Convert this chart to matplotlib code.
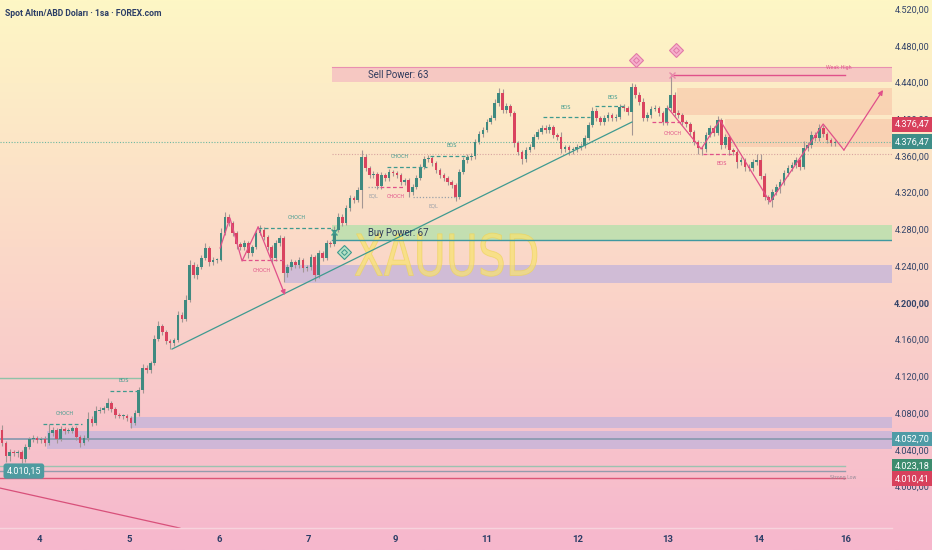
import matplotlib
matplotlib.use("Agg")
import numpy as np
import matplotlib.pyplot as plt
from matplotlib.patches import Rectangle, PathPatch
from matplotlib.textpath import TextPath
from matplotlib.font_manager import FontProperties
from matplotlib.colors import LinearSegmentedColormap
from matplotlib.transforms import Affine2D, blended_transform_factory

# ---- candle data (hourly, XAUUSD) ----
first_open = 4062.5
closes = [
    4048.3, 4034.2, 4038.5, 4037.4, 4038.5, 4030.9, 4044.0, 4052.7, 4053.8, 4051.6,
    4052.7, 4048.3, 4059.2, 4062.5, 4052.7, 4063.6, 4061.4, 4061.9, 4064.7, 4054.9,
    4048.3, 4053.8, 4074.5, 4070.1, 4083.2, 4084.3, 4086.5, 4091.9, 4085.4, 4078.8,
    4077.8, 4078.3, 4075.6, 4070.1, 4081.0, 4106.1, 4130.0, 4127.9, 4135.5, 4161.6,
    4175.8, 4169.3, 4159.4, 4157.3, 4160.5, 4187.8, 4183.4, 4204.1, 4242.2, 4231.3,
    4240.0, 4249.9, 4260.8, 4245.5, 4247.7, 4248.2, 4277.1, 4294.5, 4288.0, 4277.1,
    4265.1, 4261.8, 4266.2, 4255.3, 4261.8, 4277.1, 4280.4, 4272.7, 4261.8, 4249.9,
    4266.2, 4271.6, 4233.5, 4240.0, 4245.5, 4242.2, 4247.7, 4239.0, 4240.0, 4251.0,
    4231.3, 4255.3, 4249.9, 4266.2, 4265.1, 4280.4, 4294.5, 4288.0, 4304.3, 4315.2,
    4313.0, 4323.9, 4359.9, 4347.9, 4340.3, 4341.4, 4328.3, 4340.3, 4337.0, 4343.5,
    4342.5, 4340.3, 4332.6, 4334.8, 4321.8, 4327.2, 4337.0, 4349.0, 4357.7, 4358.8,
    4353.3, 4345.7, 4340.3, 4337.0, 4332.6, 4329.4, 4316.3, 4343.5, 4356.6, 4359.9,
    4361.0, 4376.2, 4384.9, 4389.3, 4398.0, 4402.4, 4418.7, 4429.6, 4411.1, 4415.4,
    4407.8, 4375.1, 4365.3, 4357.7, 4367.5, 4370.8, 4381.7, 4387.1, 4391.5, 4389.3,
    4392.6, 4383.8, 4381.7, 4368.6, 4370.8, 4367.5, 4368.6, 4370.8, 4371.9, 4380.6,
    4394.7, 4410.0, 4402.4, 4398.0, 4402.4, 4405.6, 4402.4, 4403.4, 4414.3, 4413.3,
    4408.9, 4436.1, 4427.4, 4419.8, 4402.4, 4405.6, 4412.2, 4413.3, 4407.8, 4398.0,
    4413.3, 4427.4, 4407.8, 4405.6, 4398.0, 4395.8, 4387.1, 4376.2, 4369.7, 4368.6,
    4383.8, 4391.5, 4386.0, 4400.2, 4372.9, 4381.7, 4367.5, 4365.3, 4354.4, 4356.6,
    4349.0, 4347.9, 4354.4, 4356.6, 4339.2, 4316.3, 4313.0, 4321.8, 4327.2, 4332.6,
    4342.5, 4347.9, 4351.2, 4356.6, 4349.0, 4369.7, 4372.9, 4383.8, 4380.6, 4391.5,
    4384.9, 4378.4, 4375.1, 4376.47,
]
wick_up = [
    6, 2, 3, 2, 2, 2, 3, 2, 3, 2,
    2, 3, 10, 3, 2, 3, 2, 3, 2, 2,
    2, 3, 8, 3, 6, 3, 2, 5, 2, 2,
    2, 2, 2, 2, 3, 3, 4, 3, 2, 4,
    5, 2, 2, 2, 2, 4, 3, 6, 6, 3,
    3, 3, 5, 2, 3, 2, 5, 6, 3, 2,
    2, 2, 3, 2, 2, 3, 5, 3, 2, 2,
    3, 3, 2, 3, 3, 2, 3, 2, 2, 3,
    2, 3, 2, 3, 2, 4, 4, 3, 3, 3,
    2, 3, 8, 3, 2, 3, 2, 3, 2, 3,
    2, 2, 2, 2, 2, 3, 3, 3, 3, 3,
    2, 2, 2, 2, 2, 2, 2, 3, 3, 3,
    3, 3, 3, 3, 3, 3, 4, 5, 4, 3,
    2, 2, 2, 2, 3, 3, 3, 3, 3, 3,
    3, 2, 2, 5, 2, 2, 2, 3, 3, 3,
    3, 4, 3, 2, 3, 3, 2, 3, 3, 3,
    2, 4, 3, 3, 4, 3, 3, 3, 2, 2,
    3, 24, 3, 3, 2, 2, 2, 2, 2, 2,
    3, 3, 2, 4, 2, 3, 2, 2, 2, 3,
    2, 3, 3, 7, 7, 3, 2, 3, 3, 3,
    3, 3, 3, 3, 2, 8, 3, 4, 3, 4,
    3, 2, 2, 2,
]
wick_dn = [
    3, 6, 5, 3, 4, 4, 3, 2, 3, 3,
    3, 3, 2, 3, 4, 2, 3, 2, 3, 3,
    4, 2, 3, 3, 2, 2, 3, 2, 3, 3,
    2, 3, 3, 5, 2, 3, 3, 3, 3, 2,
    2, 3, 3, 6, 3, 2, 3, 2, 2, 3,
    4, 2, 2, 4, 3, 3, 2, 2, 3, 3,
    5, 3, 3, 5, 3, 2, 2, 3, 3, 6,
    3, 3, 10, 4, 3, 3, 3, 4, 3, 3,
    6, 3, 3, 2, 3, 2, 2, 3, 2, 3,
    3, 2, 20, 3, 3, 3, 3, 3, 3, 3,
    3, 3, 3, 3, 5, 3, 2, 2, 2, 3,
    3, 3, 3, 3, 3, 3, 4, 2, 2, 3,
    3, 3, 2, 3, 2, 2, 2, 3, 3, 3,
    3, 4, 3, 5, 3, 2, 2, 2, 2, 3,
    3, 3, 3, 4, 3, 5, 4, 3, 3, 2,
    2, 2, 3, 3, 3, 3, 3, 3, 2, 3,
    3, 25, 3, 3, 3, 3, 3, 2, 3, 3,
    3, 3, 3, 3, 3, 3, 3, 3, 6, 6,
    3, 2, 3, 2, 4, 3, 5, 3, 6, 3,
    4, 3, 3, 3, 3, 3, 4, 8, 3, 6,
    3, 3, 3, 3, 3, 2, 3, 3, 3, 3,
    3, 3, 3, 3,
]

day_ticks = [9.5, 32.5, 55.5, 78.5, 100.5, 124.0, 147.3, 170.3, 193.6, 215.9]
day_labels = ["4", "5", "6", "7", "9", "11", "12", "13", "14", "16"]
price_ticks = list(range(4000, 4521, 40))

# zones: (x_start, price_low, price_high, color, alpha)
zones = [
    (84.4, 4441.6, 4457.9, "#f2aac0", 0.55),   # sell power
    (172.6, 4405.6, 4435.0, "#f7b89c", 0.45),
    (185.0, 4371.0, 4401.0, "#f7b89c", 0.45),
    (84.4, 4269.5, 4285.8, "#b9e0ae", 0.85),   # buy power
    (72.4, 4223.0, 4242.0, "#c2b4dc", 0.75),
    (32.7, 4064.7, 4076.6, "#c2b4dc", 0.75),
    (11.5, 4041.8, 4061.4, "#c2b4dc", 0.75),
]

# structure levels: (x0, x1, price, colour, style, label, label_x, label_y)
TEAL = "#3f9a8e"
PINK = "#e0508a"
levels = [
    (10.5, 20.5, 4069.0, TEAL, "--", "CHoCH", 16.1, 4080.0),
    (27.6, 35.3, 4105.0, TEAL, "--", "BOS", 31.2, 4116.5),
    (65.5, 84.7, 4282.5, TEAL, "--", "CHoCH", 75.4, 4294.5),
    (61.4, 72.4, 4247.7, PINK, "--", "CHoCH", 66.5, 4236.8),
    (98.5, 108.7, 4349.0, TEAL, "--", "CHoCH", 101.8, 4359.9),
    (109.5, 119.2, 4361.0, TEAL, "--", "BOS", 115.1, 4371.9),
    (96.7, 103.1, 4327.2, PINK, "--", "CHoCH", 100.8, 4317.4),
    (93.6, 96.7, 4327.2, "#9aa0a8", ":", "EQL", 95.1, 4317.4),
    (105.1, 115.9, 4316.3, "#9aa0a8", ":", "EQL", 110.2, 4306.5),
    (138.4, 150.4, 4403.4, TEAL, "--", "BOS", 144.2, 4414.3),
    (151.7, 159.3, 4415.4, TEAL, "--", "BOS", 156.3, 4425.2),
    (166.2, 174.4, 4398.0, PINK, "--", "CHoCH", 171.6, 4386.0),
    (179.3, 187.5, 4363.2, PINK, "--", "BOS", 184.1, 4353.3),
]

zigzag1 = [(55.8, 4260.8), (58.3, 4293.4), (61.4, 4246.6), (65.5, 4283.6), (72.4, 4209.5)]
zigzag2 = [(170.3, 4413.3), (178.8, 4368.6), (183.6, 4400.2), (196.4, 4310.9),
           (210.0, 4395.8), (215.3, 4367.5), (225.3, 4432.9)]
trend = [(43.5, 4150.7), (161.1, 4398.0)]
red_trend = [(-0.5, 3999.3), (45.5, 3955.7)]

last_price = 4376.47

W, H = 932, 550
fig = plt.figure(figsize=(W / 100, H / 100), dpi=100)

# background gradient
bg = fig.add_axes([0, 0, 1, 1], zorder=-5)
cmap = LinearSegmentedColormap.from_list(
    "bg", [(0, "#fef7c5"), (0.45, "#fbd9c8"), (1.0, "#f6b7cd")])
bg.imshow(np.linspace(0, 1, 256).reshape(-1, 1), aspect="auto", cmap=cmap,
          extent=[0, 1, 1, 0])
bg.set_xlim(0, 1)
bg.set_ylim(1, 0)
bg.axis("off")

ax = fig.add_axes([0, 22 / H, 892 / W, 528 / H])
ax.set_facecolor("none")
for s in ax.spines.values():
    s.set_visible(False)
ax.set_xlim(-0.5, 227.6)
ax.set_ylim(3955.8, 4530.9)
ax.set_xticks([])
ax.set_yticks([])

XR = 227.6

# zones
for x0, lo, hi, col, a in zones:
    ax.add_patch(Rectangle((x0, lo), XR - x0, hi - lo, fc=col, ec="none", alpha=a, zorder=1))
ax.plot([84.4, XR], [4457.9, 4457.9], color="#e98fb0", lw=0.8, zorder=2)
ax.plot([84.4, XR], [4269.5, 4269.5], color="#3f98a0", lw=1.0, zorder=2)

# watermark
tp = TextPath((0, 0), "XAUUSD", size=1, prop=FontProperties(family="DejaVu Sans"))
ext = tp.get_extents()
wx0, wx1, wp0, wp1 = 90.3, 136.8, 4230.0, 4277.0
tr = (Affine2D().translate(-ext.x0, -ext.y0)
      .scale((wx1 - wx0) / ext.width, (wp1 - wp0) / ext.height)
      .translate(wx0, wp0) + ax.transData)
ax.add_patch(PathPatch(tp, transform=tr, fc="#f8e36e", ec="#eed35a", lw=0.6,
                       alpha=0.7, zorder=1.5))

# horizontal reference lines
ax.plot([-0.5, XR], [4052.7, 4052.7], color="#8c9bb0", lw=1.3, zorder=2)
ax.plot([-0.5, 215.5], [4023.18, 4023.18], color="#9cc2b0", lw=1.0, zorder=2)
ax.plot([-0.5, 215.5], [4017.6, 4017.6], color="#939cac", lw=1.0, zorder=2)
ax.plot([-0.5, 215.5], [4010.41, 4010.41], color="#dc5676", lw=1.0, zorder=2)
ax.plot([-0.5, 35.3], [4119.1, 4119.1], color="#8fc2a8", lw=1.0, zorder=2)
ax.plot([-0.5, XR], [last_price, last_price], color="#6db8a2", lw=0.8, ls=(0, (1, 1.5)), zorder=2)
ax.plot([84.4, XR], [4363.2, 4363.2], color="#d8a4a0", lw=0.8, ls=(0, (1, 1.5)), zorder=2)

# candles
closes_a = np.array(closes)
opens_a = np.concatenate([[first_open], closes_a[:-1]])
idx = np.arange(len(closes_a))
highs = np.maximum(opens_a, closes_a) + np.array(wick_up)
lows = np.minimum(opens_a, closes_a) - np.array(wick_dn)
up = closes_a >= opens_a
ax.vlines(idx, lows, highs, color="#a39693", lw=0.8, zorder=3)
body = np.maximum(np.abs(closes_a - opens_a), 0.8)
ax.bar(idx[up], body[up], bottom=opens_a[up], width=0.68, color="#3f8a80", zorder=4)
ax.bar(idx[~up], body[~up], bottom=closes_a[~up], width=0.68, color="#d9435f", zorder=4)

# structure levels and labels
for x0, x1, p, col, ls, lab, lx, ly in levels:
    ax.plot([x0, x1], [p, p], color=col, lw=0.9, ls=(0, (3, 2)) if ls == "--" else (0, (1, 1.5)), zorder=5)
    ax.text(lx, ly, lab.upper(), color=col, fontsize=3.6, ha="center", va="center", zorder=6)

# trend lines
ax.plot(*zip(*trend), color="#3f9a90", lw=0.9, zorder=5)
ax.plot(*zip(*red_trend), color="#d8507a", lw=0.9, zorder=5)

for zz in (zigzag1, zigzag2):
    xs, ys = zip(*zz)
    ax.plot(xs[:-1], ys[:-1], color="#e0508a", lw=0.9, zorder=5)
    ax.annotate("", xy=zz[-1], xytext=zz[-2],
                arrowprops=dict(arrowstyle="-|>", color="#e0508a", lw=0.9,
                                mutation_scale=7, shrinkA=0, shrinkB=0), zorder=5)

# weak high
ax.plot([171.4, 215.6], [4449.2, 4449.2], color="#e0508a", lw=1.0, zorder=5)
ax.plot(171.4, 4449.2, marker="x", color="#e88aaa", ms=5, mew=1.0, zorder=6)
ax.text(214.0, 4457.5, "Weak High", color="#e0508a", fontsize=3.4, ha="center", va="center", zorder=6)
ax.text(215.0, 4010.4, "Strong Low", color="#9a8e9a", fontsize=3.4, ha="center", va="center", zorder=6)
ax.plot(85.0, 4278.0, marker="x", color="#3f9a8e", ms=4, mew=1.0, zorder=6)

# diamonds
for dx, dp, fc, ec in [(162.1, 4465.5, "#f6b0cc", "#e27aa6"), (172.4, 4476.4, "#f6b0cc", "#e27aa6"),
                       (87.5, 4256.4, "#b6e0c4", "#3f9a8e")]:
    ax.plot(dx, dp, marker="D", ms=7, mfc=fc, mec=ec, mew=0.8, zorder=6)
    ax.plot(dx, dp, marker="D", ms=3, mfc="none", mec=ec, mew=0.7, zorder=7)

NARROW = ["Liberation Sans Narrow", "Roboto", "DejaVu Sans"]
ax.text(93.6, 4449.6, "Sell Power: 63", fontsize=6.9, color="#2e3a5c", va="center",
        family=NARROW, zorder=6)
ax.text(93.6, 4277.5, "Buy Power: 67", fontsize=6.9, color="#2e3a5c", va="center",
        family=NARROW, zorder=6)

# left price badge
ax.text(5.6, 4017.8, "4.010,15", fontsize=6.5, color="white", ha="center", va="center",
        family=NARROW, zorder=8,
        bbox=dict(boxstyle="round,pad=0.35,rounding_size=0.3", fc="#4f9ba0", ec="none"))

# title
fig.text(5 / W, 1 - 13 / H, "Spot Altın/ABD Doları · 1sa · FOREX.com", fontsize=6.2,
         fontweight="bold", color="#2b3d66", va="center", family=NARROW)

# right price axis
def fmt(v):
    s = f"{v:,.2f}"
    return s.replace(",", "X").replace(".", ",").replace("X", ".")

ptr = blended_transform_factory(fig.transFigure, ax.transData)
for p in price_ticks:
    ax.text(912 / W, p, fmt(p), transform=ptr, fontsize=6.6, color="#34456a",
            ha="center", va="center", clip_on=False, family=NARROW,
            fontweight="bold" if p == 4200 else "normal")

badges = [
    (4395.3, last_price, "#d8405c"),
    (last_price, last_price, "#3e8e88"),
    (4052.7, 4052.7, "#4f9ba6"),
    (4023.18, 4023.18, "#3d8c6e"),
    (4009.5, 4010.41, "#d8405c"),
]
for pos, val, col in badges:
    ax.text(912 / W, pos, fmt(val), transform=ptr, fontsize=6.6, color="white",
            ha="center", va="center", clip_on=False, family=NARROW, zorder=9,
            bbox=dict(boxstyle="square,pad=0.32", fc=col, ec="none"))

# date axis
dtr = blended_transform_factory(ax.transData, fig.transFigure)
for t, lab in zip(day_ticks, day_labels):
    ax.text(t, 1 - 540 / H, lab, transform=dtr, fontsize=6.8, fontweight="bold",
            color="#2b3d66", ha="center", va="center", clip_on=False, family=NARROW)
fig.add_artist(plt.Line2D([0, 892 / W], [22 / H, 22 / H], color="#f7d3dd", lw=1.0))

fig.savefig("out.png", dpi=100)
